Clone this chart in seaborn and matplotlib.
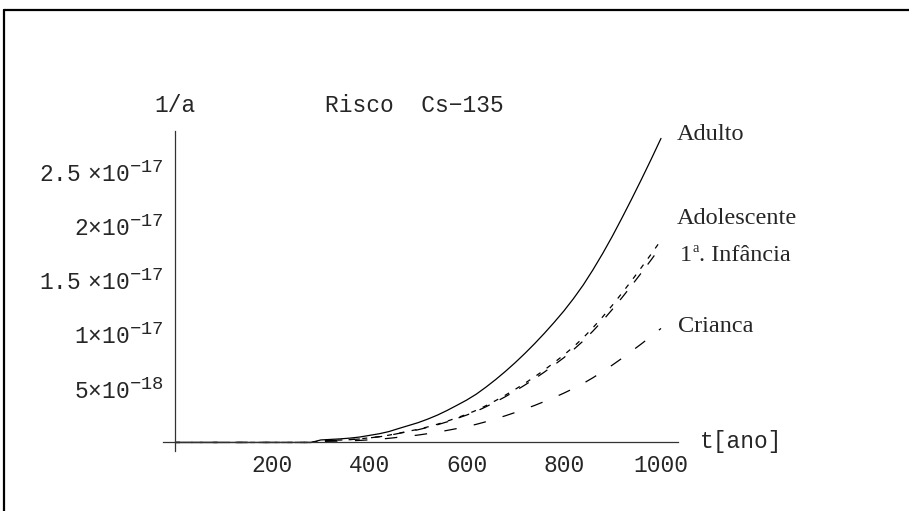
import matplotlib
matplotlib.use("Agg")
import matplotlib.pyplot as plt
import matplotlib._mathtext as mathtext_interno
from matplotlib.lines import Line2D
from matplotlib.ticker import FixedLocator, FixedFormatter, MultipleLocator
import pandas as pd
import seaborn as sns

# Tempo (anos) e risco anual (em unidades de 1e-18 por ano)
ESCALA = 1e-18
t_anos = list(range(0, 1001, 20))

risco_adulto = [
    0, 0, 0, 0, 0, 0, 0, 0, 0, 0, 0, 0, 0, 0, 0,
    0.23, 0.28, 0.33, 0.40, 0.50, 0.65, 0.80, 1.00, 1.28, 1.55,
    1.82, 2.15, 2.52, 2.95, 3.42, 3.90, 4.45, 5.10, 5.80, 6.55,
    7.35, 8.20, 9.10, 10.05, 11.05, 12.10, 13.25, 14.50, 15.90, 17.40,
    19.00, 20.70, 22.45, 24.25, 26.10, 28.00,
]
risco_adolescente = [
    0, 0, 0, 0, 0, 0, 0, 0, 0, 0, 0, 0, 0, 0, 0,
    0.15, 0.19, 0.22, 0.27, 0.33, 0.43, 0.53, 0.67, 0.85, 1.03,
    1.21, 1.43, 1.68, 1.96, 2.27, 2.59, 2.96, 3.39, 3.86, 4.36,
    4.89, 5.45, 6.05, 6.68, 7.35, 8.05, 8.81, 9.64, 10.57, 11.57,
    12.64, 13.77, 14.93, 16.13, 17.36, 18.62,
]
risco_infancia = [
    0, 0, 0, 0, 0, 0, 0, 0, 0, 0, 0, 0, 0, 0, 0,
    0.15, 0.18, 0.21, 0.26, 0.32, 0.42, 0.52, 0.65, 0.83, 1.00,
    1.17, 1.39, 1.63, 1.90, 2.21, 2.52, 2.87, 3.29, 3.74, 4.22,
    4.74, 5.29, 5.87, 6.48, 7.13, 7.80, 8.55, 9.35, 10.26, 11.22,
    12.26, 13.35, 14.48, 15.64, 16.83, 18.06,
]
risco_crianca = [
    0, 0, 0, 0, 0, 0, 0, 0, 0, 0, 0, 0, 0, 0, 0,
    0.09, 0.11, 0.12, 0.15, 0.19, 0.24, 0.30, 0.38, 0.48, 0.58,
    0.68, 0.81, 0.95, 1.11, 1.28, 1.46, 1.67, 1.91, 2.18, 2.46,
    2.76, 3.08, 3.41, 3.77, 4.14, 4.54, 4.97, 5.44, 5.96, 6.53,
    7.13, 7.76, 8.42, 9.09, 9.79, 10.50,
]

x_ticks = [200, 400, 600, 800, 1000]
x_tick_labels = ["200", "400", "600", "800", "1000"]
y_ticks = [5e-18, 1e-17, 1.5e-17, 2e-17, 2.5e-17]
y_tick_labels = [
    r"$\mathregular{5{\times}10^{-18}}$",
    r"$\mathregular{1{\times}10^{-17}}$",
    r"$\mathregular{1.5\ {\times}10^{-17}}$",
    r"$\mathregular{2{\times}10^{-17}}$",
    r"$\mathregular{2.5\ {\times}10^{-17}}$",
]

sns.set_style("white")
plt.rcParams["font.family"] = ["Liberation Mono", "DejaVu Sans Mono"]
plt.rcParams["mathtext.fontset"] = "custom"
plt.rcParams["mathtext.rm"] = "Liberation Mono"
# expoentes um pouco maiores que o padrão do mathtext
mathtext_interno.SHRINK_FACTOR = 0.82

W, H = 909, 511
fig = plt.figure(figsize=(W / 100, H / 100), dpi=100)
fig.patch.set_facecolor("white")
ax = fig.add_axes([162.85 / W, 1 - 450.6 / H, (678 - 162.85) / W, (450.6 - 130.8) / H])
ax.set_facecolor("white")

df = pd.DataFrame({"t": t_anos})
series = [
    (risco_adulto, "-"),
    (risco_adolescente, (0, (4, 6))),
    (risco_infancia, (5, (9, 9))),
    (risco_crianca, (0, (10, 14))),
]
for valores, estilo in series:
    df["risco"] = [v * ESCALA for v in valores]
    sns.lineplot(data=df, x="t", y="risco", ax=ax, color="black",
                 linewidth=0.9, linestyle=estilo, legend=False)

ax.set_xlim(-25, 1035)
ax.set_ylim(-0.75e-18, 2.87e-17)
ax.set_xlabel("")
ax.set_ylabel("")

for lado in ("top", "right"):
    ax.spines[lado].set_visible(False)
ax.spines["left"].set_position(("data", 0))
ax.spines["bottom"].set_position(("data", 0))
for lado in ("left", "bottom"):
    ax.spines[lado].set_color("#333333")
    ax.spines[lado].set_linewidth(0.9)

ax.xaxis.set_major_locator(FixedLocator(x_ticks))
ax.xaxis.set_major_formatter(FixedFormatter(x_tick_labels))
ax.xaxis.set_minor_locator(MultipleLocator(50))
ax.yaxis.set_major_locator(FixedLocator(y_ticks))
ax.yaxis.set_major_formatter(FixedFormatter(y_tick_labels))
ax.yaxis.set_minor_locator(MultipleLocator(1e-18))

ax.tick_params(which="both", direction="in", color="#333333", width=0.8)
ax.tick_params(which="major", length=5)
ax.tick_params(which="minor", length=2.5)
ax.tick_params(axis="x", which="major", pad=8, labelsize=16.5)
ax.tick_params(axis="y", which="major", pad=8, labelsize=16.5)

# rótulos das curvas
serif = ["Liberation Serif", "DejaVu Serif"]
rotulos = [
    (1033, 2.84e-17, "Adulto"),
    (1033, 2.06e-17, "Adolescente"),
    (1035, 1.07e-17, "Crianca"),
]
for tx, ty, texto in rotulos:
    ax.text(tx, ty, texto, fontsize=17.5, family=serif,
            va="center", ha="left", clip_on=False)

# "1ª. Infância" com o "a" sobrescrito pequeno
pos_inf = (1039, 1.72e-17)
ax.annotate("1", xy=pos_inf, xytext=(0, 0), textcoords="offset points",
            fontsize=17.5, family=serif, va="center", ha="left", annotation_clip=False)
ax.annotate("a", xy=pos_inf, xytext=(8.8, 5.5), textcoords="offset points",
            fontsize=10.5, family=serif, va="center", ha="left", annotation_clip=False)
ax.annotate(". Infância", xy=pos_inf, xytext=(14.0, 0), textcoords="offset points",
            fontsize=17.5, family=serif, va="center", ha="left", annotation_clip=False)

def px(x, y):
    return x / W, 1 - y / H

fig.text(*px(174.5, 105), "1/a", fontsize=16.5, ha="center", va="center")
fig.text(*px(325, 105), "Risco  Cs\u2212135", fontsize=16.5, ha="left", va="center")
fig.text(*px(700, 441), "t[ano]", fontsize=16.5, ha="left", va="center")

# moldura
fig.add_artist(Line2D([4 / W, 1], [1 - 10 / H, 1 - 10 / H], color="black", lw=1.6))
fig.add_artist(Line2D([4 / W, 4 / W], [0, 1 - 10 / H], color="black", lw=1.6))

fig.savefig("out.png", dpi=100, facecolor="white")
